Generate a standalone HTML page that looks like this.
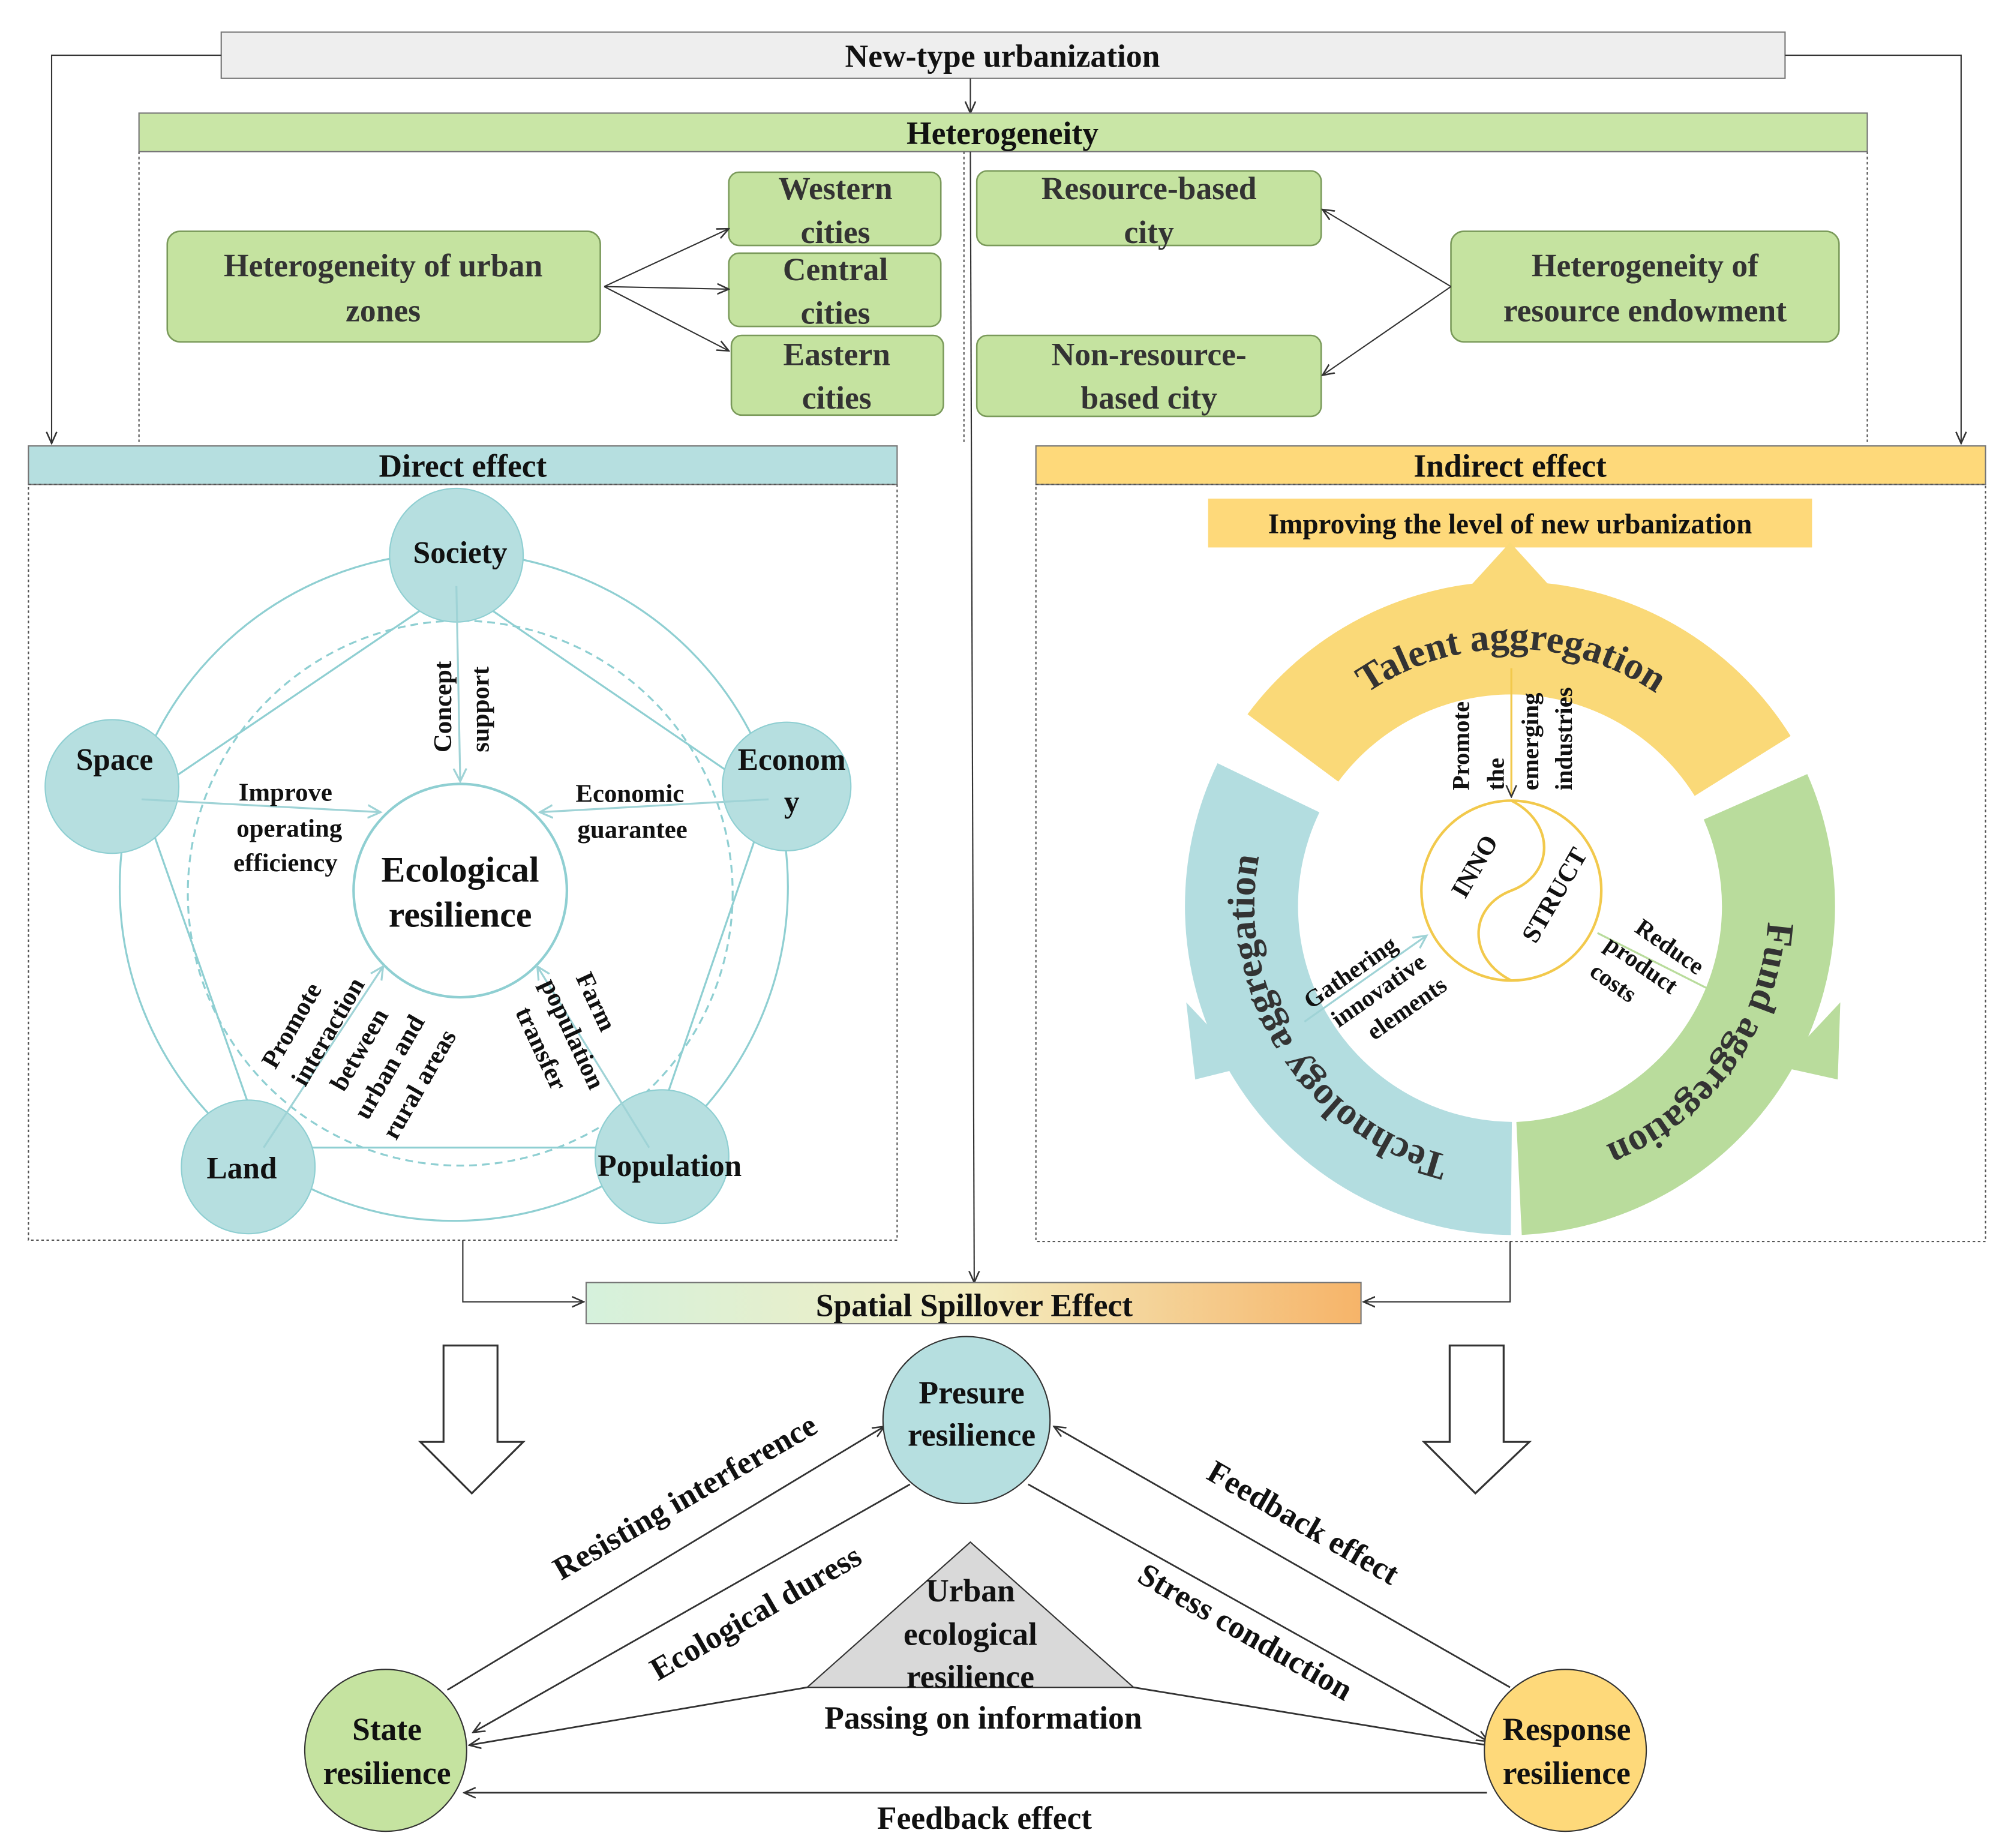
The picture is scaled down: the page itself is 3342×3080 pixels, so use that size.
<!DOCTYPE html>
<html><head><meta charset="utf-8"><style>html,body{margin:0;padding:0;background:#fff}svg{display:block}text{font-family:"Liberation Serif",serif;font-weight:bold;fill:#111}</style></head><body>
<svg width="3342" height="3080" viewBox="0 0 1560 1438" xmlns="http://www.w3.org/2000/svg">
<defs>
<marker id="a" markerWidth="10" markerHeight="10" refX="9" refY="5" orient="auto" markerUnits="userSpaceOnUse"><path d="M0,1 L9,5 L0,9" fill="none" stroke="#333" stroke-width="1.2"/></marker>
<marker id="at" markerWidth="12" markerHeight="12" refX="10" refY="6" orient="auto" markerUnits="userSpaceOnUse"><path d="M0,1 L10,6 L0,11" fill="none" stroke="#9fd3d6" stroke-width="1.5"/></marker>
<linearGradient id="g" x1="0" x2="1"><stop offset="0" stop-color="#d5f1dc"/><stop offset="0.5" stop-color="#f3edc0"/><stop offset="1" stop-color="#f6b469"/></linearGradient>
<path id="ring" d="M976,705 A200,200 0 1 1 1376,705 A200,200 0 1 1 976,705 A200,200 0 1 1 1376,705 A200,200 0 1 1 976,705"/>
</defs>
<rect x="172" y="25" width="1217" height="36" fill="#eeeeee" stroke="#777"/>
<text x="780" y="52" font-size="25" text-anchor="middle">New-type urbanization</text>
<path d="M172,43 H40 V345" fill="none" stroke="#333" marker-end="url(#a)"/>
<path d="M1389,43 H1526 V345" fill="none" stroke="#333" marker-end="url(#a)"/>
<path d="M755,61 V88" stroke="#333" marker-end="url(#a)"/>
<rect x="108" y="88" width="1345" height="30" fill="#c9e6a6" stroke="#777"/>
<text x="780" y="112" font-size="25" text-anchor="middle">Heterogeneity</text>
<path d="M108,118 V345 M1453,118 V345 M750,118 V345" stroke="#555" stroke-dasharray="2,2" fill="none"/>
<g fill="#c5e3a0" stroke="#7a9a5a" stroke-width="1.2">
<rect x="130" y="180" width="337" height="86" rx="10"/>
<rect x="567" y="134" width="165" height="57" rx="8"/>
<rect x="567" y="197" width="165" height="57" rx="8"/>
<rect x="569" y="261" width="165" height="62" rx="8"/>
<rect x="760" y="133" width="268" height="58" rx="8"/>
<rect x="760" y="261" width="268" height="63" rx="8"/>
<rect x="1129" y="180" width="302" height="86" rx="10"/>
</g>
<g font-size="25" text-anchor="middle">
<text x="298" y="215" style="fill:#333">Heterogeneity of urban</text><text x="298" y="250" style="fill:#333">zones</text>
<text x="650" y="155" style="fill:#333">Western</text><text x="650" y="189" style="fill:#333">cities</text>
<text x="650" y="218" style="fill:#333">Central</text><text x="650" y="252" style="fill:#333">cities</text>
<text x="651" y="284" style="fill:#333">Eastern</text><text x="651" y="318" style="fill:#333">cities</text>
<text x="894" y="155" style="fill:#333">Resource-based</text><text x="894" y="189" style="fill:#333">city</text>
<text x="894" y="284" style="fill:#333">Non-resource-</text><text x="894" y="318" style="fill:#333">based city</text>
<text x="1280" y="215" style="fill:#333">Heterogeneity of</text><text x="1280" y="250" style="fill:#333">resource endowment</text>
</g>
<g stroke="#333" fill="none">
<path d="M470,223 L567,178" marker-end="url(#a)"/><path d="M470,223 L567,225" marker-end="url(#a)"/><path d="M470,223 L567,273" marker-end="url(#a)"/>
<path d="M1129,223 L1029,163" marker-end="url(#a)"/><path d="M1129,223 L1029,292" marker-end="url(#a)"/>
</g>
<rect x="22" y="347" width="676" height="30" fill="#b6dfe0" stroke="#777"/>
<text x="360" y="371" font-size="25" text-anchor="middle">Direct effect</text>
<rect x="22" y="377" width="676" height="588" fill="none" stroke="#555" stroke-dasharray="2,2"/>
<rect x="806" y="347" width="739" height="30" fill="#fed97a" stroke="#777"/>
<text x="1175" y="371" font-size="25" text-anchor="middle">Indirect effect</text>
<rect x="806" y="377" width="739" height="589" fill="none" stroke="#555" stroke-dasharray="2,2"/>
<path d="M755,118 L758,998" stroke="#333" marker-end="url(#a)"/>
<g stroke="#8fcfd2" fill="none" stroke-width="1.5">
<circle cx="353" cy="690" r="260"/>
<circle cx="358" cy="695" r="212" stroke-dasharray="6,4"/>
<path d="M355,456 L110,622 L205,893 L505,893 L598,622 Z"/>
</g>
<g fill="#b6dfe0" stroke="#8fcfd2">
<circle cx="355" cy="432" r="52"/><circle cx="87" cy="612" r="52"/><circle cx="612" cy="612" r="50"/><circle cx="193" cy="908" r="52"/><circle cx="515" cy="900" r="52"/>
</g>
<circle cx="358" cy="693" r="83" fill="#fff" stroke="#8fcfd2" stroke-width="2"/>
<g stroke="#9fd3d6" stroke-width="1.5">
<path d="M355,456 L358,608" marker-end="url(#at)"/>
<path d="M110,622 L296,632" marker-end="url(#at)"/>
<path d="M598,622 L420,632" marker-end="url(#at)"/>
<path d="M205,893 L298,752" marker-end="url(#at)"/>
<path d="M505,893 L418,752" marker-end="url(#at)"/>
</g>
<g font-size="24" text-anchor="middle">
<text x="358" y="438">Society</text><text x="89" y="599">Space</text><text x="616" y="599">Econom</text><text x="616" y="632">y</text>
<text x="188" y="917">Land</text><text x="521" y="915">Population</text>
<text x="358" y="686" font-size="28">Ecological</text><text x="358" y="721" font-size="28">resilience</text>
</g>
<g font-size="20" text-anchor="middle">
<text x="222" y="623">Improve</text><text x="225" y="651">operating</text><text x="222" y="678">efficiency</text>
<text x="490" y="624">Economic</text><text x="492" y="652">guarantee</text>
<text transform="translate(351,550) rotate(-90)">Concept</text><text transform="translate(380,552) rotate(-90)">support</text>
<g transform="translate(285,820) rotate(-60)"><text x="-10" y="-55">Promote</text><text x="0" y="-28">interaction</text><text x="0" y="0">between</text><text x="0" y="27">urban and</text><text x="0" y="54">rural areas</text></g>
<g transform="translate(455,800) rotate(65)"><text x="-15" y="-10">Farm</text><text x="0" y="17">population</text><text x="0" y="44">transfer</text></g>
</g>
<rect x="940" y="388" width="470" height="38" fill="#fed97a"/>
<text x="1175" y="415" font-size="22" text-anchor="middle">Improving the level of new urbanization</text>
<path d="M1145,455 L1175,422 L1205,455 Z" fill="#fad978"/>
<g fill="none" stroke-width="88">
<path d="M1006,582 A212,212 0 0 1 1356,596" stroke="#fad978"/>
<path d="M1176,917 A212,212 0 0 1 987,613" stroke="#b3dde0"/>
<path d="M1366,620 A212,212 0 0 1 1182,917" stroke="#b9dc9c"/>
</g>
<path d="M923,780 L970,830 L930,840 Z" fill="#b3dde0"/>
<path d="M1432,780 L1385,830 L1430,840 Z" fill="#b9dc9c"/>
<g font-size="30" text-anchor="middle">
<text style="fill:#333"><textPath href="#ring" startOffset="12.5%">Talent aggregation</textPath></text>
<text style="fill:#333"><textPath href="#ring" startOffset="30%">Fund aggregation</textPath></text>
<text style="fill:#333"><textPath href="#ring" startOffset="45.5%">Technology aggregation</textPath></text>
</g>
<circle cx="1176" cy="693" r="70" fill="none" stroke="#f2c94c" stroke-width="2"/>
<path d="M1176,623 C1210,640 1210,680 1176,693 C1142,706 1142,746 1176,763" fill="none" stroke="#f2c94c" stroke-width="2"/>
<text transform="translate(1140,700) rotate(-60)" font-size="20">INNO</text>
<text transform="translate(1195,735) rotate(-60)" font-size="20">STRUCT</text>
<path d="M1176,520 V620" stroke="#f2c94c" stroke-width="1.5" marker-end="url(#a)"/>
<path d="M1015,795 L1110,728" stroke="#9fd3d6" stroke-width="1.5" marker-end="url(#at)"/>
<path d="M1360,785 L1243,726" stroke="#b9dc9c" stroke-width="1.5"/>
<g font-size="19">
<text transform="translate(1143,615) rotate(-90)">Promote</text>
<text transform="translate(1170,615) rotate(-90)">the</text>
<text transform="translate(1197,615) rotate(-90)">emerging</text>
<text transform="translate(1223,615) rotate(-90)">industries</text>
<g transform="translate(1060,770) rotate(-35)" text-anchor="middle"><text x="0" y="-10">Gathering</text><text x="10" y="14">innovative</text><text x="20" y="38">elements</text></g>
<g transform="translate(1290,750) rotate(35)" text-anchor="middle"><text x="0" y="-10">Reduce</text><text x="-10" y="14">product</text><text x="-20" y="38">costs</text></g>
</g>
<path d="M360,965 V1013 H454" fill="none" stroke="#333" marker-end="url(#a)"/>
<path d="M1175,966 V1013 H1061" fill="none" stroke="#333" marker-end="url(#a)"/>
<rect x="456" y="998" width="603" height="32" fill="url(#g)" stroke="#777"/>
<text x="758" y="1024" font-size="25" text-anchor="middle">Spatial Spillover Effect</text>
<path d="M345,1047 H387 V1122 H407 L367,1162 L327,1122 H345 Z" fill="#fff" stroke="#333" stroke-width="1.5"/>
<path d="M1128,1047 H1170 V1122 H1190 L1148,1162 L1108,1122 H1128 Z" fill="#fff" stroke="#333" stroke-width="1.5"/>
<path d="M755,1200 L628,1313 L882,1313 Z" fill="#d9d9d9" stroke="#333"/>
<g stroke="#333" fill="none" stroke-width="1.3">
<path d="M348,1315 L688,1110" marker-end="url(#a)"/>
<path d="M708,1155 L368,1348" marker-end="url(#a)"/>
<path d="M1175,1313 L820,1110" marker-end="url(#a)"/>
<path d="M800,1155 L1158,1355" marker-end="url(#a)"/>
<path d="M628,1313 L365,1358" marker-end="url(#a)"/>
<path d="M882,1313 L1157,1358"/>
<path d="M1157,1395 H361" marker-end="url(#a)"/>
</g>
<circle cx="752" cy="1105" r="65" fill="#b6dfe0" stroke="#333"/>
<circle cx="300" cy="1362" r="63" fill="#c5e3a0" stroke="#333"/>
<circle cx="1218" cy="1362" r="63" fill="#fed97a" stroke="#333"/>
<g font-size="25" text-anchor="middle">
<text x="756" y="1092">Presure</text><text x="756" y="1125">resilience</text>
<text x="301" y="1354">State</text><text x="301" y="1388">resilience</text>
<text x="1219" y="1354">Response</text><text x="1219" y="1388">resilience</text>
<text x="755" y="1246">Urban</text><text x="755" y="1280">ecological</text><text x="755" y="1313">resilience</text>
<text x="765" y="1345">Passing on information</text>
<text x="766" y="1423">Feedback effect</text>
<text transform="translate(537,1172) rotate(-30)">Resisting interference</text>
<text transform="translate(592,1262) rotate(-30)">Ecological duress</text>
<text transform="translate(1010,1192) rotate(30)">Feedback effect</text>
<text transform="translate(965,1277) rotate(30)">Stress conduction</text>
</g>
</svg>
</body></html>
